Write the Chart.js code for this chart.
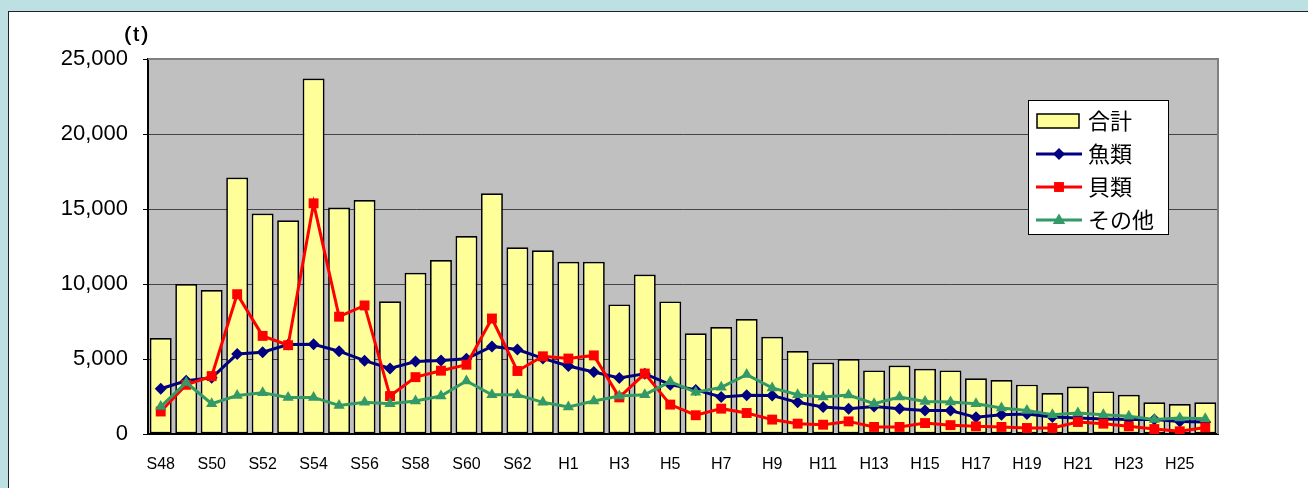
<!DOCTYPE html>
<html lang="ja">
<head>
<meta charset="utf-8">
<title>漁獲量の推移</title>
<script src="https://cdn.jsdelivr.net/npm/chart.js@4.4.1/dist/chart.umd.min.js"></script>
<style>
  html,body{margin:0;padding:0;}
  body{width:1308px;height:488px;overflow:hidden;background:#bde0e3;position:relative;}
  .panel{position:absolute;left:8px;top:11px;width:1320px;height:500px;background:#fff;border:1px solid #222;}
  #catchChart{position:absolute;left:0;top:0;}
</style>
</head>
<body>
<div class="panel"></div>
<canvas id="catchChart" width="1308" height="488"></canvas>
<script>
/* ── DATA (t) ───────────────────────────────────────────── */
const years = ['S48','S49','S50','S51','S52','S53','S54','S55','S56','S57','S58','S59','S60','S61','S62','S63',
  'H1','H2','H3','H4','H5','H6','H7','H8','H9','H10','H11','H12','H13','H14','H15','H16','H17','H18','H19','H20',
  'H21','H22','H23','H24','H25','H26'];

const totalT = [6400,10000,9600,17100,14700,14250,23700,15100,15600,8850,10750,11600,13200,16050,12450,12250,
  11480,11480,8640,10630,8840,6710,7130,7660,6480,5530,4770,5000,4240,4570,4350,4240,3710,3600,3290,2730,
  3170,2840,2620,2110,2000,2110];

const fishT = [3020,3550,3750,5330,5450,5960,5980,5520,4890,4370,4830,4900,5010,5840,5630,5040,
  4530,4130,3730,4010,3290,2940,2470,2580,2560,2110,1800,1690,1840,1690,1560,1570,1110,1290,1330,1130,
  1070,1000,960,960,840,800];

const shellT = [1500,3280,3860,9320,6540,5920,15380,7820,8570,2530,3790,4220,4620,7700,4200,5180,
  5030,5240,2440,4030,1960,1250,1690,1400,960,690,620,840,470,470,730,590,510,470,400,400,
  800,690,510,330,180,440];

const otherT = [1830,3430,2020,2570,2750,2440,2440,1900,2110,2010,2200,2530,3530,2620,2620,2110,
  1800,2200,2530,2620,3490,2780,3110,3960,3070,2620,2470,2600,2020,2470,2160,2140,2020,1730,1560,1290,
  1400,1290,1180,960,1070,1020];

const yTicks = [0,5000,10000,15000,20000,25000];

/* ── PLUGINS ────────────────────────────────────────────── */
const plotBg = {
  id:'plotBg',
  beforeDraw(chart){
    const {ctx,chartArea:a} = chart;
    ctx.save();
    ctx.fillStyle = '#c0c0c0';
    ctx.fillRect(a.left,a.top,a.right-a.left,a.bottom-a.top);
    ctx.restore();
  },
  beforeDatasetsDraw(chart){
    const {ctx,chartArea:a} = chart;
    ctx.save();
    ctx.strokeStyle = '#808080'; ctx.lineWidth = 2;
    ctx.beginPath();
    ctx.moveTo(a.left,a.top); ctx.lineTo(a.right,a.top); ctx.lineTo(a.right,a.bottom);
    ctx.stroke();
    ctx.restore();
  }
};

const unitLabel = {
  id:'unitLabel',
  afterDraw(chart){
    const {ctx} = chart;
    ctx.save();
    ctx.font = "21px 'Liberation Sans', Arial, sans-serif";
    ctx.fillStyle = '#000'; ctx.textAlign = 'center'; ctx.textBaseline = 'middle';
    ctx.letterSpacing = '2px';
    ctx.fillText('(t)', 137, 35);
    ctx.fillText('(t)', 137.5, 35);
    ctx.restore();
  }
};

function drawMarker(ctx, style, x, y, r){
  ctx.beginPath();
  if(style==='rectRot'){ ctx.moveTo(x,y-r); ctx.lineTo(x+r,y); ctx.lineTo(x,y+r); ctx.lineTo(x-r,y); }
  else if(style==='rect'){ const s=r*Math.SQRT1_2; ctx.rect(x-s,y-s,2*s,2*s); }
  else { ctx.moveTo(x,y-r); ctx.lineTo(x+r*0.95,y+r*0.6); ctx.lineTo(x-r*0.95,y+r*0.6); }
  ctx.closePath(); ctx.fill();
}

const legendBox = {
  id:'legendBox',
  afterDraw(chart){
    const {ctx,chartArea:a} = chart;
    const x = a.right-190, y = a.top+41, w = 140, h = 134;
    ctx.save();
    ctx.fillStyle = '#fff'; ctx.fillRect(x,y,w,h);
    ctx.strokeStyle = '#000'; ctx.lineWidth = 1; ctx.strokeRect(x+0.5,y+0.5,w,h);
    ctx.font = "22px 'Noto Sans CJK JP', sans-serif";
    ctx.textBaseline = 'middle'; ctx.textAlign = 'left';
    chart.data.datasets.forEach((ds,i)=>{
      const cy = y+21+i*33;
      if(ds.type==='bar'){
        ctx.fillStyle = ds.backgroundColor; ctx.fillRect(x+9,cy-7,42,14);
        ctx.strokeStyle = '#000'; ctx.lineWidth = 1.5; ctx.strokeRect(x+9,cy-7,42,14);
      } else {
        ctx.strokeStyle = ds.borderColor; ctx.lineWidth = 3;
        ctx.beginPath(); ctx.moveTo(x+8,cy); ctx.lineTo(x+54,cy); ctx.stroke();
        ctx.fillStyle = ds.pointBackgroundColor;
        drawMarker(ctx, ds.pointStyle, x+31, cy, ds.pointRadius);
      }
      ctx.fillStyle = '#000';
      ctx.fillText(ds.label, x+60, cy);
    });
    ctx.restore();
  }
};

/* ── CHART ──────────────────────────────────────────────── */
Chart.defaults.font.family = "'Liberation Sans', Arial, sans-serif";
Chart.defaults.color = '#000';

const lineStyle = (label,data,color,style,r,order)=>({
  type:'line', label, data, order,
  borderColor:color, backgroundColor:color, pointBackgroundColor:color, pointBorderColor:color,
  borderWidth:3, pointStyle:style, pointRadius:r, pointBorderWidth:0, tension:0
});

new Chart(document.getElementById('catchChart'),{
  data:{
    labels:years,
    datasets:[
      { type:'bar', label:'合計', data:totalT, order:4,
        backgroundColor:'#ffff99', borderColor:'#000', borderWidth:1.7, borderSkipped:false,
        categoryPercentage:1, barPercentage:0.86 },
      lineStyle('魚類', fishT, '#000080','rectRot',6,3),
      lineStyle('貝類', shellT,'#ff0000','rect',7,2),
      lineStyle('その他',otherT,'#339966','triangle',6.5,1)
    ]
  },
  options:{
    responsive:false, animation:false, devicePixelRatio:1,
    layout:{padding:{top:59,right:90,bottom:0,left:0}},
    plugins:{legend:{display:false},tooltip:{enabled:false}},
    scales:{
      x:{
        grid:{display:false,drawTicks:false},
        border:{color:'#000',width:2},
        ticks:{autoSkip:false,maxRotation:0,padding:21,font:{size:16},
          callback:(v,i)=> i%2===0 ? years[i] : ''},
        afterFit:s=>{ s.height = 54; }
      },
      y:{
        min:0,max:25000,
        grid:{color:'#444',lineWidth:1,tickLength:5,tickColor:'#000'},
        border:{color:'#000',width:2},
        afterBuildTicks:s=>{ s.ticks = yTicks.map(v=>({value:v})); },
        ticks:{padding:15,font:{size:22},callback:v=>v.toLocaleString('en-US')},
        afterFit:s=>{ s.width = 148; }
      }
    }
  },
  plugins:[plotBg,unitLabel,legendBox]
});
</script>
</body>
</html>
